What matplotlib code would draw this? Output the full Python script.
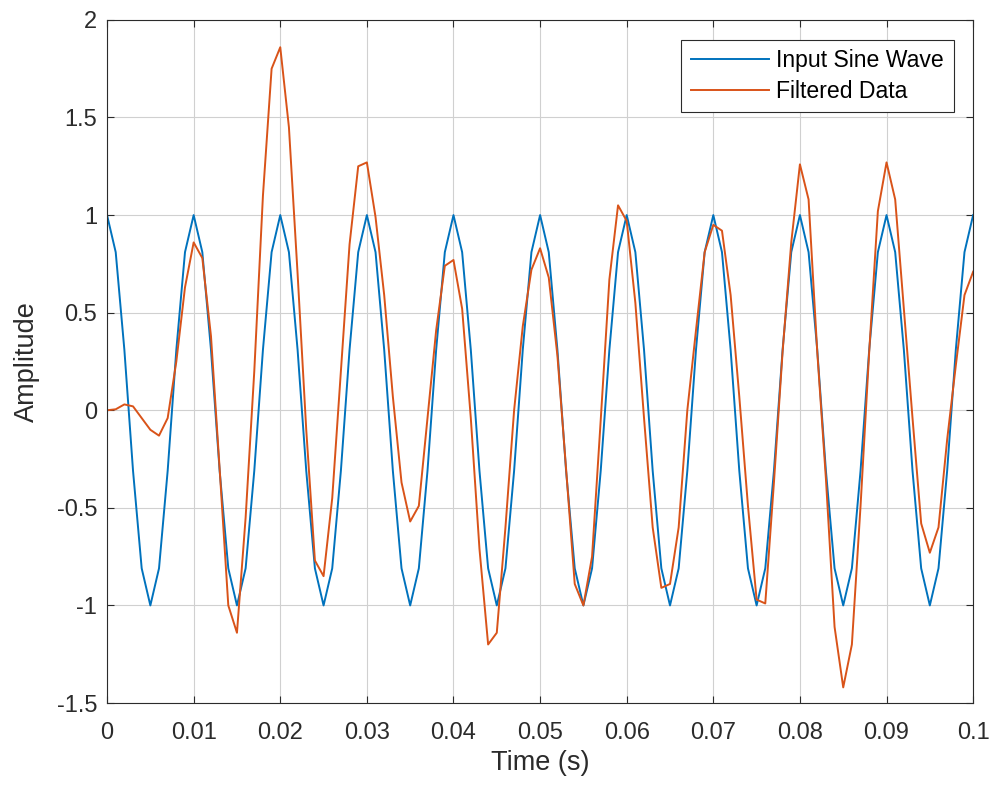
import numpy as np
import matplotlib.pyplot as plt
from matplotlib.ticker import FuncFormatter

plt.rcParams['font.family'] = ['Liberation Sans', 'DejaVu Sans']

# time axis, 1 kHz sampling over 0..0.1 s
t = np.arange(101) / 1000.0

# one period of the input wave (10 samples)
input_period = [1.0, 0.81, 0.31, -0.31, -0.81, -1.0, -0.81, -0.31, 0.31, 0.81]
input_wave = input_period * 10 + [1.0]

filtered = [
    0.0, 0.005, 0.03, 0.02, -0.04, -0.1, -0.13, -0.04, 0.25, 0.63,
    0.86, 0.78, 0.38, -0.3, -1.0, -1.14, -0.55, 0.2, 1.1, 1.75,
    1.86, 1.45, 0.7, -0.1, -0.77, -0.85, -0.45, 0.2, 0.85, 1.25,
    1.27, 0.99, 0.59, 0.07, -0.37, -0.57, -0.49, -0.04, 0.41, 0.74,
    0.77, 0.52, -0.04, -0.71, -1.2, -1.14, -0.6, 0.0, 0.43, 0.72,
    0.83, 0.68, 0.28, -0.3, -0.89, -1.0, -0.75, -0.05, 0.67, 1.05,
    0.97, 0.55, -0.04, -0.6, -0.91, -0.89, -0.6, 0.0, 0.41, 0.81,
    0.95, 0.92, 0.59, 0.07, -0.49, -0.97, -0.99, -0.37, 0.3, 0.86,
    1.26, 1.08, 0.3, -0.35, -1.11, -1.42, -1.2, -0.49, 0.3, 1.02,
    1.27, 1.08, 0.52, -0.04, -0.58, -0.73, -0.6, -0.15, 0.23, 0.59,
    0.71,
]

labels = ['Input Sine Wave', 'Filtered Data']
xticks = [0, 0.01, 0.02, 0.03, 0.04, 0.05, 0.06, 0.07, 0.08, 0.09, 0.1]
yticks = [-1.5, -1, -0.5, 0, 0.5, 1, 1.5, 2]

dark = '#2b2b2b'

fig = plt.figure(figsize=(9.93, 7.87), dpi=100)
ax = fig.add_axes([0.1078, 0.1067, 0.8722, 0.868])

ax.plot(t, input_wave, color='#0072BD', lw=1.4, label=labels[0])
ax.plot(t, filtered, color='#D95319', lw=1.4, label=labels[1])

ax.set_xlim(0, 0.1)
ax.set_ylim(-1.5, 2)
ax.set_xticks(xticks)
ax.set_yticks(yticks)
ax.xaxis.set_major_formatter(FuncFormatter(lambda v, p: '%g' % round(v, 4)))
ax.yaxis.set_major_formatter(FuncFormatter(lambda v, p: '%g' % v))

ax.grid(True, color='#d0d0d0', lw=0.8)
ax.set_axisbelow(True)
ax.tick_params(direction='in', length=5, width=0.8, colors=dark,
               labelsize=17, top=True, right=True)
ax.tick_params(axis='x', pad=14)
ax.tick_params(axis='y', pad=7)
for s in ax.spines.values():
    s.set_color(dark)
    s.set_linewidth(0.8)

ax.set_xlabel('Time (s)', fontsize=19.5, color=dark, labelpad=4)
ax.set_ylabel('Amplitude', fontsize=19.5, color=dark, labelpad=12)

leg = ax.legend(loc='upper right', fontsize=16.6, fancybox=False,
                edgecolor=dark, framealpha=1, handlelength=3.4,
                borderaxespad=0.85, borderpad=0.42, labelspacing=0.33,
                handletextpad=0.3)
leg.get_frame().set_linewidth(0.8)

fig.savefig('out.png', dpi=100)
